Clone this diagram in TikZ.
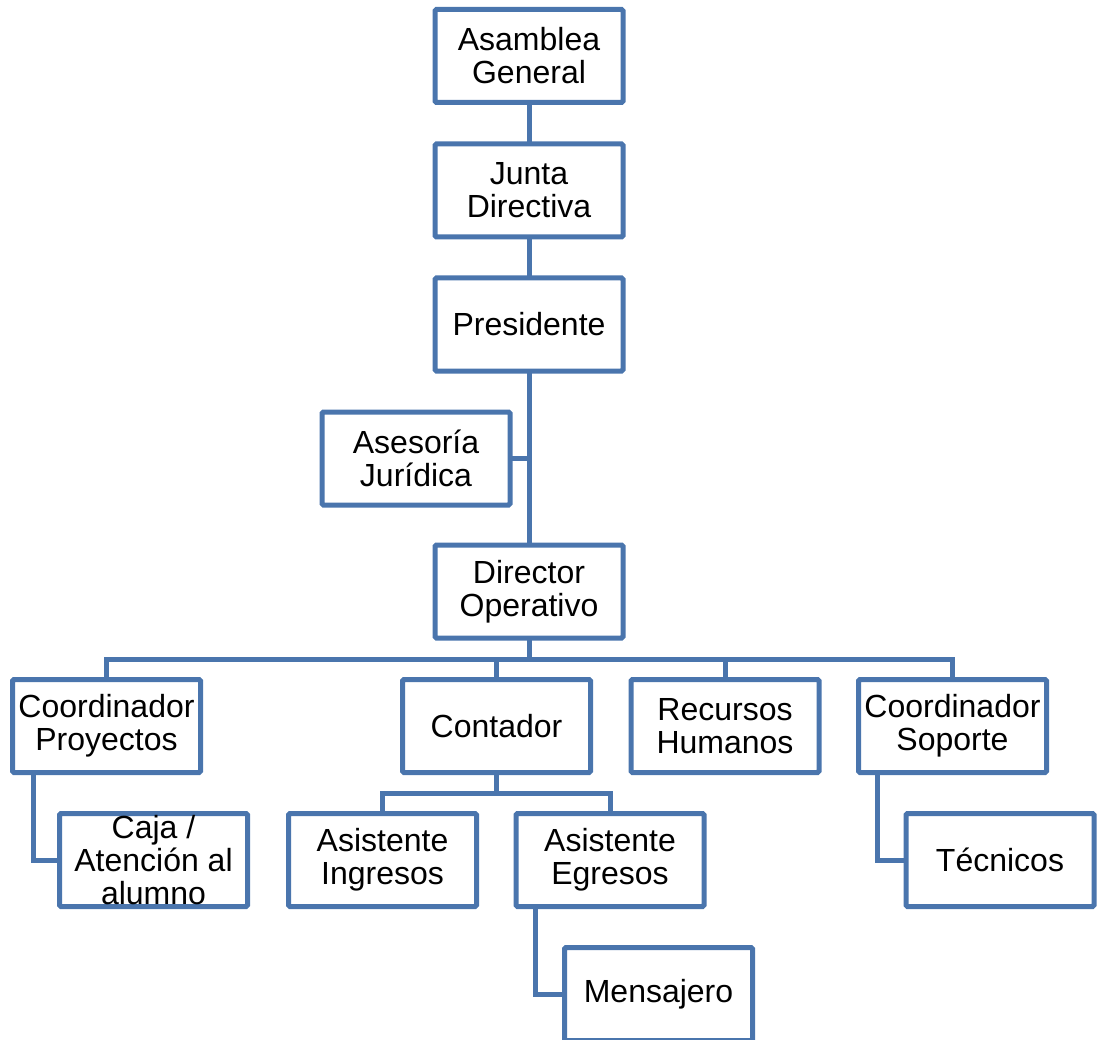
\documentclass[tikz,border=0pt]{standalone}
\usepackage{fontspec}
\setmainfont{Liberation Sans}
\definecolor{orgblue}{RGB}{74,117,173}
\tikzset{
  unit/.style={draw=orgblue, line width=5pt, rectangle, rounded corners=1.5pt,
    minimum width=188pt, minimum height=93pt, inner sep=0pt, outer sep=0pt,
    align=center, font=\fontsize{32}{33}\selectfont, fill=white},
  link/.style={draw=orgblue, line width=5pt}
}
\begin{document}
\begin{tikzpicture}[x=1pt, y=-1pt]
\useasboundingbox (0,0) rectangle (1097,1040);

% hierarchy boxes
\node[unit] (asam) at (529,56)    {Asamblea\\General};
\node[unit] (junta) at (529,190.5) {Junta\\Directiva};
\node[unit] (pres) at (529,324.5) {Presidente};
\node[unit] (ases) at (416,458.5) {Asesoría\\Jurídica};
\node[unit] (dir)  at (529,591.5) {Director\\Operativo};

\node[unit] (cproy) at (106.5,726) {Coordinador\\Proyectos};
\node[unit] (cont)  at (496.5,726) {Contador};
\node[unit] (rrhh)  at (725,726)   {Recursos\\Humanos};
\node[unit] (csop)  at (952.5,726) {Coordinador\\Soporte};

\node[unit] (caja) at (153.5,860) {Caja /\\Atención al\\alumno};
\node[unit] (ing)  at (382.5,860) {Asistente\\Ingresos};
\node[unit] (egr)  at (610,860)   {Asistente\\Egresos};
\node[unit] (tec)  at (1000,860)  {Técnicos};
\node[unit] (mens) at (658.5,994) {Mensajero};

% junction points of the branch lines
\coordinate (busD) at (529,659);
\coordinate (busC) at (496.5,793);

% main chain of command
\draw[link] (asam.south) -- (junta.north);
\draw[link] (junta.south) -- (pres.north);
\draw[link] (pres.south) -- (dir.north);
\draw[link] (ases.east) -- (ases.east -| pres.south);

% areas under the operations director
\draw[link] (dir.south) -- (busD);
\draw[link] (cproy.north) |- (busD) -| (csop.north);
\draw[link] (cont.north) |- (busD);
\draw[link] (rrhh.north) |- (busD);

% accounting assistants
\draw[link] (cont.south) -- (busC);
\draw[link] (ing.north) |- (busC) -| (egr.north);

% single subordinates hanging from the left side
\draw[link] (caja.west) -| ([xshift=20.5pt]cproy.south west);
\draw[link] (tec.west) -| ([xshift=18.5pt]csop.south west);
\draw[link] (mens.west) -| ([xshift=19.5pt]egr.south west);
\end{tikzpicture}
\end{document}
